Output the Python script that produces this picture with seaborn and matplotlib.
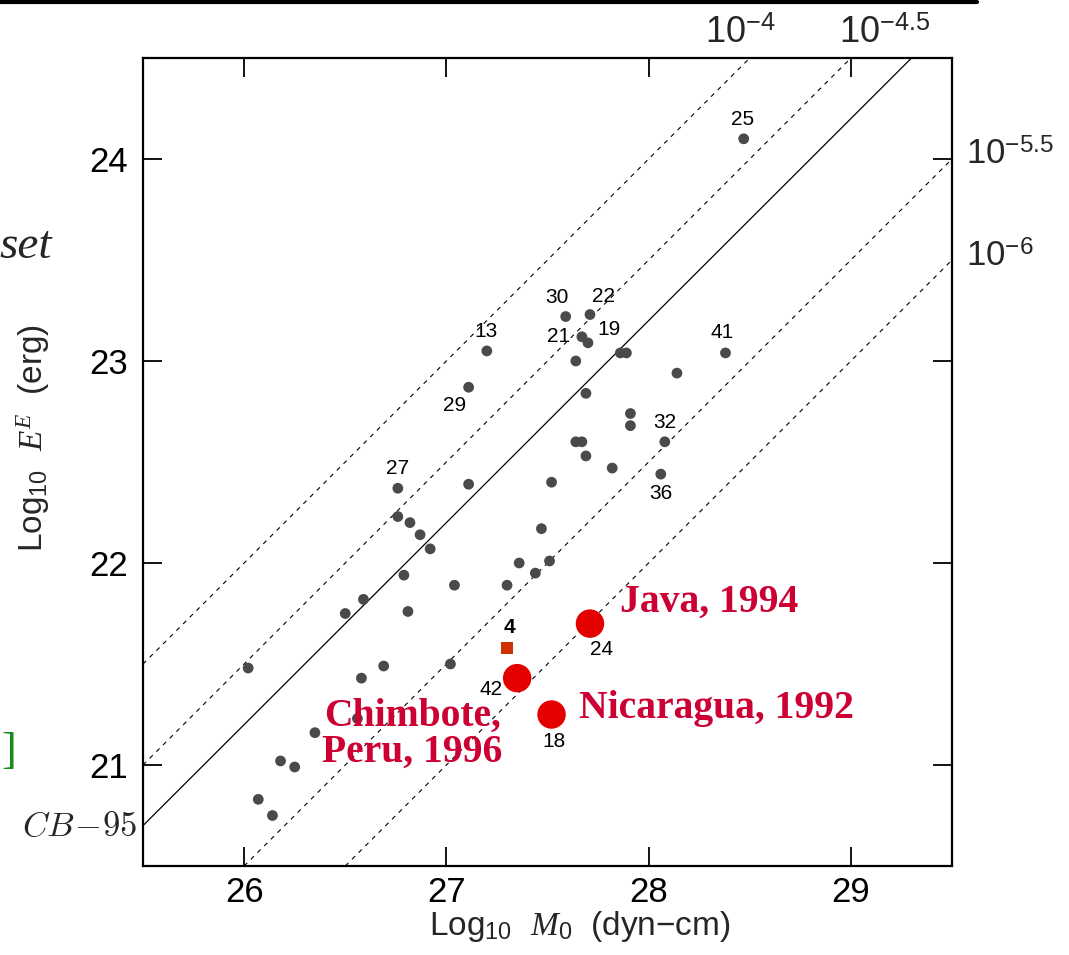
import matplotlib
matplotlib.use("Agg")
import matplotlib.pyplot as plt
from matplotlib.lines import Line2D
import numpy as np
import pandas as pd
import seaborn as sns

# ── Data ──────────────────────────────────────────────────────────────────
# gray events: log10 M0 (dyn-cm), log10 E^E (erg)
gray_m0 = [27.20, 27.11, 28.47, 27.59, 27.71, 27.67, 27.70, 27.64, 27.86, 27.89,
           28.14, 28.38, 27.69, 26.76, 27.11, 26.76, 26.82, 26.87, 26.92, 26.79,
           27.04, 26.59, 26.50, 26.81, 27.36, 27.30, 27.44, 27.47, 26.02, 26.69,
           27.02, 26.58, 27.91, 27.91, 28.08, 27.64, 27.67, 27.69, 27.82, 28.06,
           27.52, 27.51, 26.56, 26.35, 26.18, 26.25, 26.07, 26.14]
gray_ee = [23.05, 22.87, 24.10, 23.22, 23.23, 23.12, 23.09, 23.00, 23.04, 23.04,
           22.94, 23.04, 22.84, 22.37, 22.39, 22.23, 22.20, 22.14, 22.07, 21.94,
           21.89, 21.82, 21.75, 21.76, 22.00, 21.89, 21.95, 22.17, 21.48, 21.49,
           21.50, 21.43, 22.74, 22.68, 22.60, 22.60, 22.60, 22.53, 22.47, 22.44,
           22.40, 22.01, 21.23, 21.16, 21.02, 20.99, 20.83, 20.75]

# numbered events (event id, m0, ee, label offset in pixels)
num_ids = ["13", "29", "25", "30", "22", "21", "19", "41", "27", "32", "36"]
num_m0 = [27.20, 27.11, 28.47, 27.59, 27.71, 27.67, 27.70, 28.38, 26.76, 28.08, 28.06]
num_ee = [23.05, 22.87, 24.10, 23.22, 23.23, 23.12, 23.09, 23.04, 22.37, 22.60, 22.44]
num_dx = [-1, -14, -1, -9, 14, -23, 21, -3, 0, 0, 0]
num_dy = [19, -18, 19, 19, 18, 0, 13, 20, 20, 19, -19]

# tsunami earthquakes highlighted in red
red_names = ["Java, 1994", "Chimbote,\nPeru, 1996", "Nicaragua, 1992"]
red_ids = ["24", "42", "18"]
red_m0 = [27.71, 27.35, 27.52]
red_ee = [21.70, 21.43, 21.25]
red_id_dx = [12, -26, 2]
red_id_dy = [-26, -11, -27]
red_txt_dx = [30, -105, 27]
red_txt_dy = [21, -56, 6]
red_txt_ha = ["left", "center", "left"]

# event 4
ev4_m0 = [27.30]
ev4_ee = [21.58]

# E/M0 reference lines (log10 ratio)
dashed_ratios = [-4.0, -4.5, -5.5, -6.0]
cb95_ratio = -4.8

# ── Style ─────────────────────────────────────────────────────────────────
sns.set_theme(style="ticks")
plt.rcParams["font.family"] = ["Liberation Sans", "DejaVu Sans"]
plt.rcParams["mathtext.fontset"] = "custom"
plt.rcParams["mathtext.rm"] = "Liberation Sans"
plt.rcParams["mathtext.it"] = "Liberation Serif:italic"
plt.rcParams["mathtext.bf"] = "Liberation Sans:bold"

GRAY = "#4a4a4a"
RED = "#e50000"
CRIMSON = "#cc0033"
ORANGE = "#cc3300"
W, H = 1069, 955
PX = 72 / 100  # points per pixel

fig = plt.figure(figsize=(W / 100, H / 100), dpi=100)
ax = fig.add_axes([143 / W, 1 - 866 / H, (952 - 143) / W, (866 - 58) / H])

# reference lines
for r in dashed_ratios:
    ax.axline((0, r), slope=1, color="black", lw=0.8, ls=(0, (4, 4.5)), zorder=1)
ax.axline((0, cb95_ratio), slope=1, color="black", lw=0.9, zorder=1)

gray_df = pd.DataFrame({"m0": gray_m0, "ee": gray_ee})
sns.scatterplot(data=gray_df, x="m0", y="ee", color=GRAY, s=60, marker="o",
                edgecolor="none", ax=ax, zorder=3)
sns.scatterplot(x=ev4_m0, y=ev4_ee, color=ORANGE, s=70, marker="s",
                edgecolor="none", ax=ax, zorder=3)
red_df = pd.DataFrame({"m0": red_m0, "ee": red_ee})
sns.scatterplot(data=red_df, x="m0", y="ee", color=RED, s=420, marker="o",
                edgecolor="none", ax=ax, zorder=4)

for lab, x, y, dx, dy in zip(num_ids, num_m0, num_ee, num_dx, num_dy):
    ax.annotate(lab, (x, y), xytext=(dx * PX, dy * PX), textcoords="offset points",
                ha="center", va="center", fontsize=15, color="black", zorder=5)
ax.annotate("4", (ev4_m0[0], ev4_ee[0]), xytext=(2 * PX, 20 * PX),
            textcoords="offset points", ha="center", va="center",
            fontsize=15, fontweight="bold", color="black", zorder=5)

for name, lab, x, y, idx, idy, tdx, tdy, ha in zip(
        red_names, red_ids, red_m0, red_ee, red_id_dx, red_id_dy,
        red_txt_dx, red_txt_dy, red_txt_ha):
    ax.annotate(lab, (x, y), xytext=(idx * PX, idy * PX), textcoords="offset points",
                ha="center", va="center", fontsize=15, color="black", zorder=5)
    ax.annotate(name, (x, y), xytext=(tdx * PX, tdy * PX), textcoords="offset points",
                ha=ha, va="center", multialignment="center", linespacing=0.95,
                fontsize=28.5, fontweight="bold", color=CRIMSON,
                family="Liberation Serif", zorder=6)

ax.set_xlim(25.5, 29.5)
ax.set_ylim(20.5, 24.5)
ax.set_xticks([26, 27, 28, 29])
ax.set_yticks([21, 22, 23, 24])
ax.tick_params(direction="in", length=14, width=1.3, top=True, right=True,
               labelsize=25, pad=7, colors="black")
ax.tick_params(axis="y", pad=11)
for sp in ax.spines.values():
    sp.set_linewidth(1.6)
    sp.set_color("black")

ax.set_xlabel(r"Log$_{10}$  $M_0$  (dyn$-$cm)", fontsize=24)
ax.set_ylabel(r"Log$_{10}$  $E^E$  (erg)", fontsize=24)
ax.xaxis.set_label_coords(0.54, -0.053)
ax.yaxis.set_label_coords(-0.112, 0.53)

# line labels outside the frame
fig.text(705 / W, 1 - 43 / H, r"$10^{-4}$", fontsize=26, ha="left", va="baseline")
fig.text(839 / W, 1 - 43 / H, r"$10^{-4.5}$", fontsize=26, ha="left", va="baseline")
fig.text(966 / W, 1 - 165 / H, r"$10^{-5.5}$", fontsize=25, ha="left", va="baseline")
fig.text(966 / W, 1 - 267 / H, r"$10^{-6}$", fontsize=25, ha="left", va="baseline")
fig.text(137 / W, 1 - 826 / H, r"$CB\!-\!95$", fontsize=25, ha="right", va="center",
         math_fontfamily="cm")

# slide fragments around the chart
fig.text(52 / W, 1 - 258 / H, "set", fontsize=34, ha="right", va="baseline",
         family="Liberation Serif", style="italic")
fig.text(1 / W, 1 - 752 / H, "]", fontsize=32, ha="left", va="center",
         family="Liberation Serif", color="#1a8c1a")
fig.add_artist(Line2D([0, 977 / W], [1 - 2 / H, 1 - 2 / H], lw=3, color="black"))

fig.savefig("out.png", dpi=100)
